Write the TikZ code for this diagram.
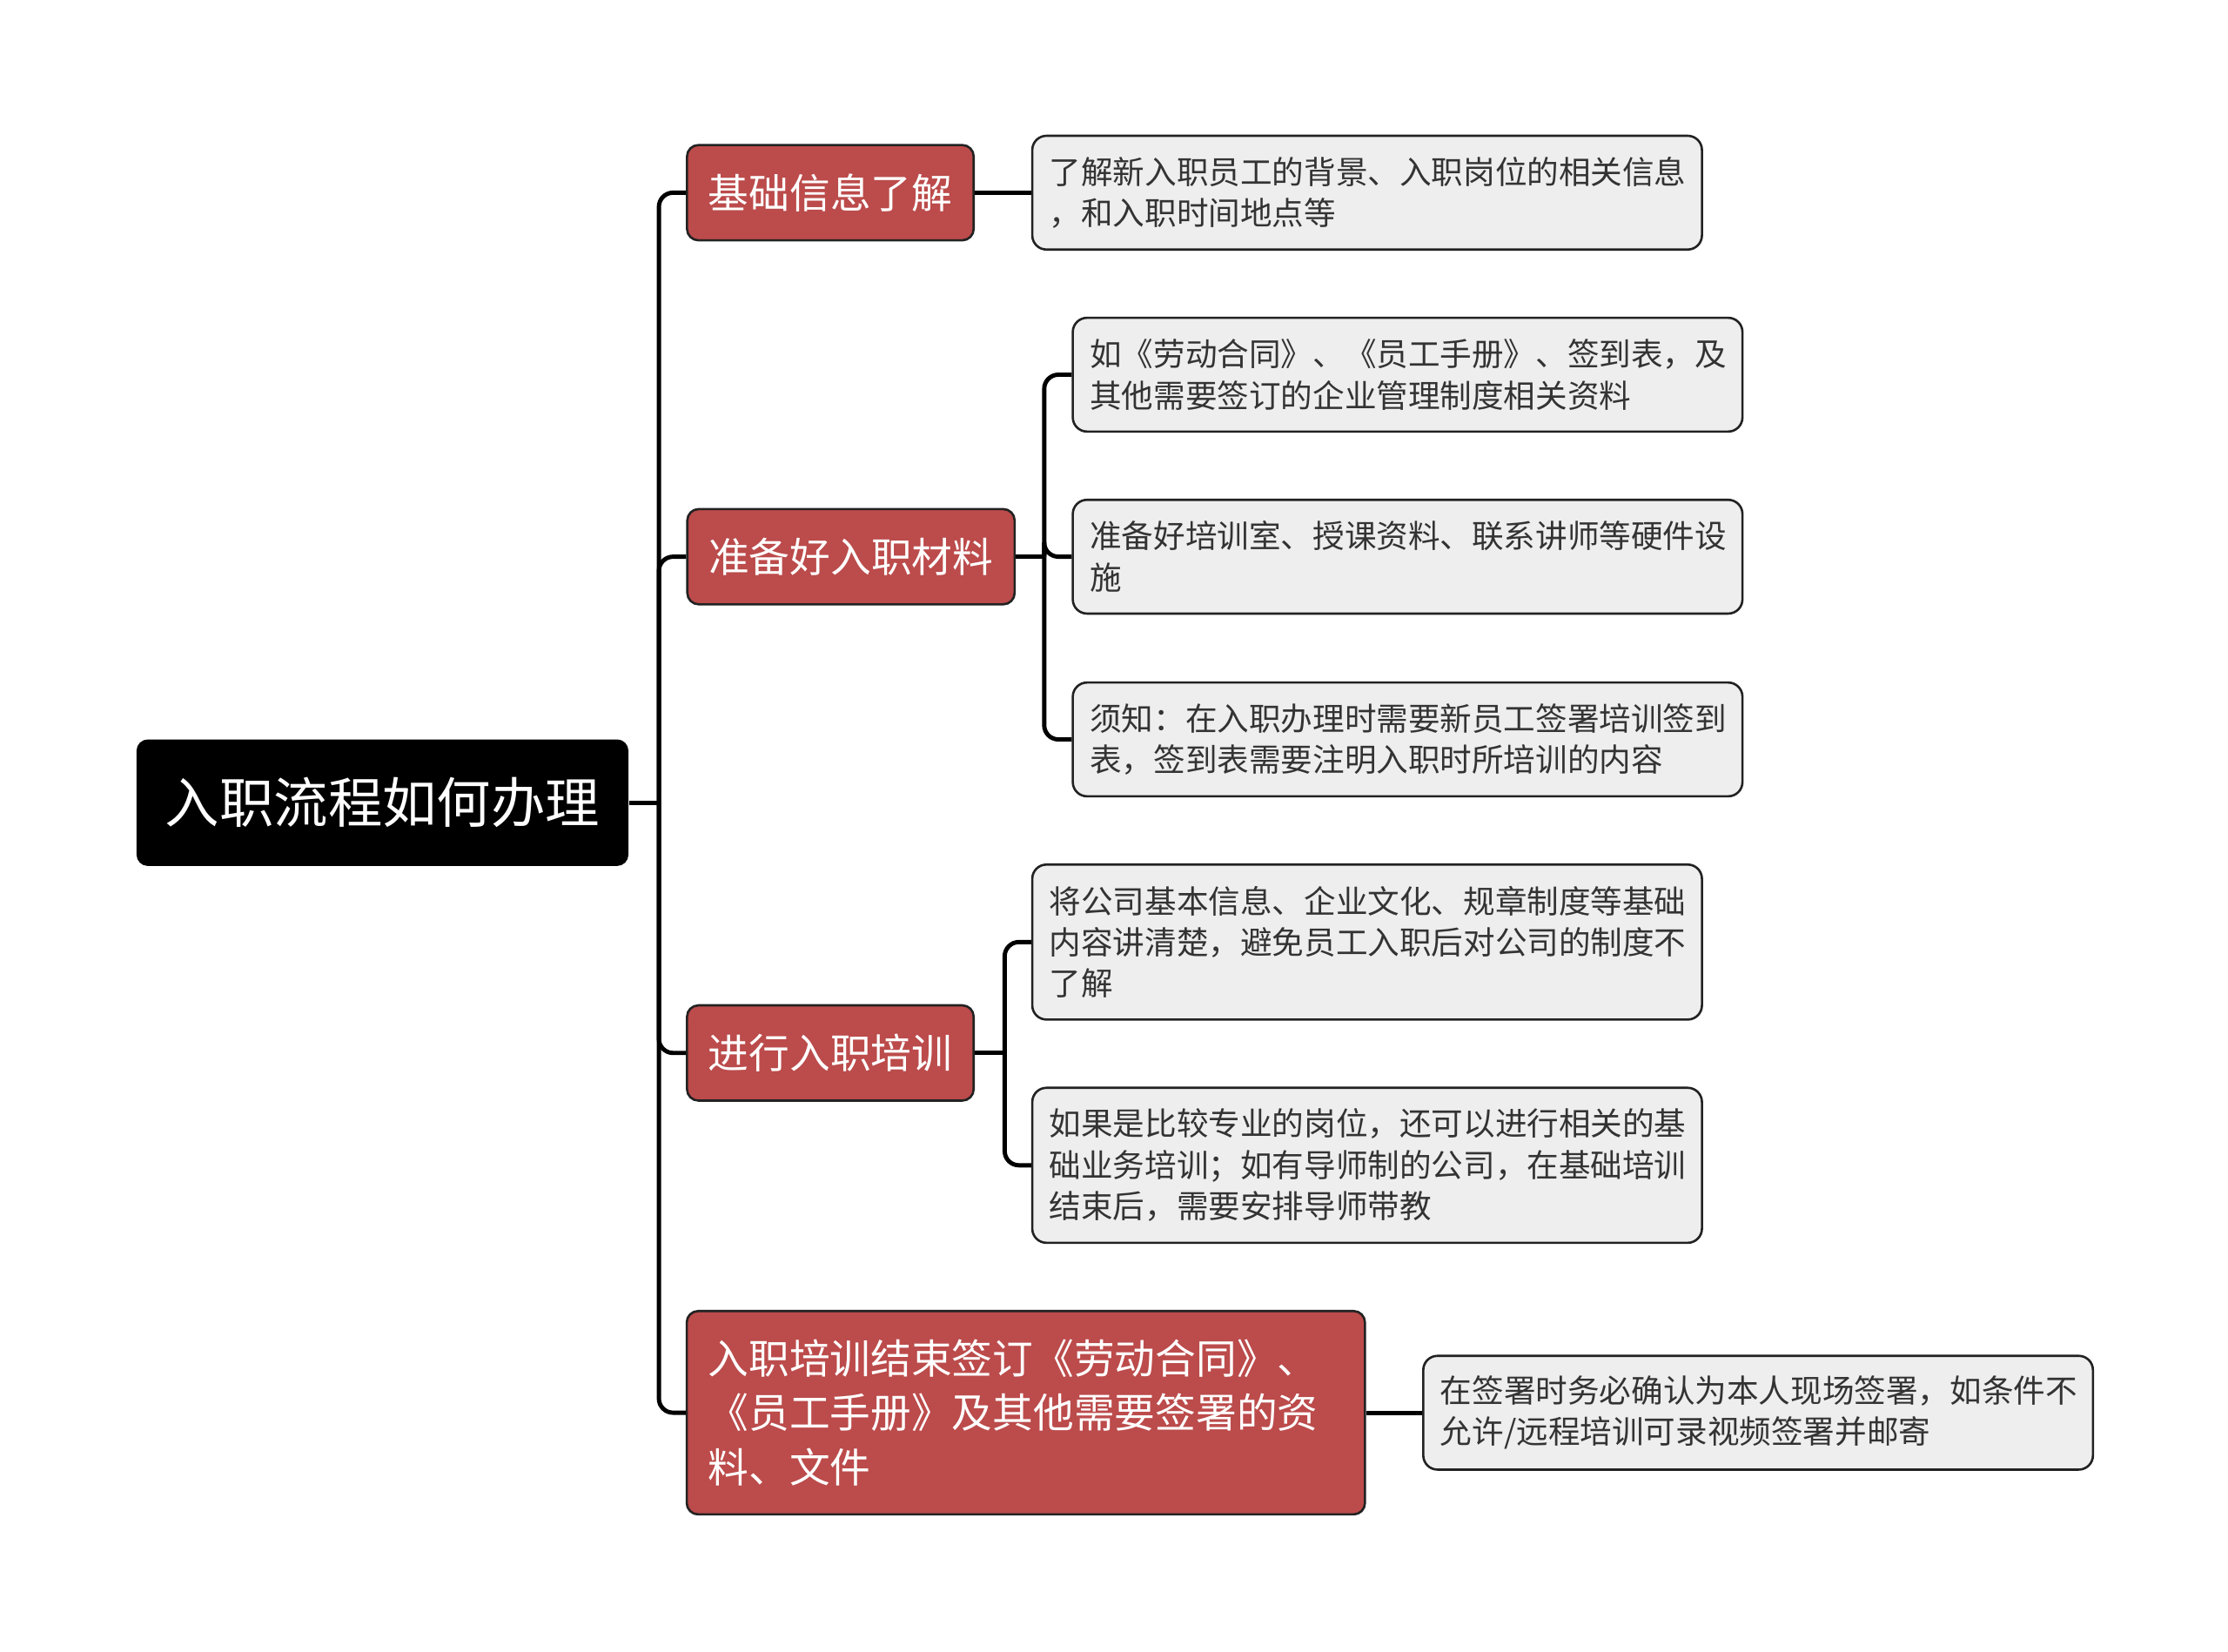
\documentclass[tikz,border=0pt]{standalone}
\usepackage{fontspec}
\setmainfont{Noto Sans CJK SC}
\usetikzlibrary{positioning}
\definecolor{topicred}{HTML}{BC4B4B}
\definecolor{notegray}{HTML}{EEEEEE}
\definecolor{edgegray}{HTML}{222222}
\tikzset{
style1/.style= {rectangle, rounded corners=4pt, fill=black, text=white, align=center, minimum width=173pt, minimum height=44.5pt, font=\fontsize{19.1}{24}\selectfont},
style2/.style= {rectangle, rounded corners=4pt, draw=edgegray, line width=0.8pt, fill=topicred, text=white, align=left, minimum height=33.5pt, inner xsep=7.5pt, font=\fontsize{14.3}{19.25}\selectfont},
style3/.style= {rectangle, rounded corners=5pt, draw=edgegray, line width=0.8pt, fill=notegray, text=black!80, align=left, text width=223.5pt, inner xsep=6pt, font=\fontsize{11.2}{14.5}\selectfont},
link/.style= {line width=1.5pt, rounded corners=5pt}
}

\begin{document}
\begin{tikzpicture}[x=0.5pt,y=-0.5pt]
\useasboundingbox (0,0) rectangle (1567,1161.2);

% the root and the four topics
\node[style1] (c0) at (269,564.5) {入职流程如何办理};
\node[style2] (c1) at (584,135.5) {基础信息了解};
\node[style2] (c2) at (598.5,391.5) {准备好入职材料};
\node[style2] (c3) at (584,740.5) {进行入职培训};
\node[style2,text width=223.5pt,minimum height=71.5pt] (c4) at (721.5,993.5) {入职培训结束签订《劳动合同》、\\《员工手册》及其他需要签署的资\\料、文件};

% the notes beside each topic
\node[style3,minimum height=40pt] (c11) at (961.5,135.5) {了解新入职员工的背景、入职岗位的相关信息\\，和入职时间地点等};

\node[style3,minimum height=40pt] (c21) at (990,263.5) {如《劳动合同》、《员工手册》、签到表，及\\其他需要签订的企业管理制度相关资料};
\node[style3,minimum height=40pt] (c22) at (990,391.5) {准备好培训室、授课资料、联系讲师等硬件设\\施};
\node[style3,minimum height=40pt] (c23) at (990,520) {须知：在入职办理时需要新员工签署培训签到\\表，签到表需要注明入职时所培训的内容};

\node[style3,minimum height=54.5pt] (c31) at (961.5,662.5) {将公司基本信息、企业文化、规章制度等基础\\内容讲清楚，避免员工入职后对公司的制度不\\了解};
\node[style3,minimum height=54.5pt] (c32) at (961.5,819.5) {如果是比较专业的岗位，还可以进行相关的基\\础业务培训；如有导师制的公司，在基础培训\\结束后，需要安排导师带教};

\node[style3,minimum height=40pt] (c41) at (1236.5,993.5) {在签署时务必确认为本人现场签署，如条件不\\允许/远程培训可录视频签署并邮寄};

% lines from the root to every topic
\coordinate (j0) at ([xshift=10.5pt]c0.east);
\draw[link] (c0.east) -- (j0);
\foreach \value in {1,...,4}
  \draw[link] (j0) |- (c\value.west);

% lines from each topic to its notes
\draw[link] (c1.east) -- (c11.west);

\coordinate (j2) at ([xshift=10pt]c2.east);
\draw[link] (c2.east) -- (j2);
\foreach \value in {1,2,3}
  \draw[link] (j2) |- (c2\value.west);

\coordinate (j3) at ([xshift=10.5pt]c3.east);
\draw[link] (c3.east) -- (j3);
\foreach \value in {1,2}
  \draw[link] (j3) |- (c3\value.west);

\draw[link] (c4.east) -- (c41.west);

\end{tikzpicture}
\end{document}
